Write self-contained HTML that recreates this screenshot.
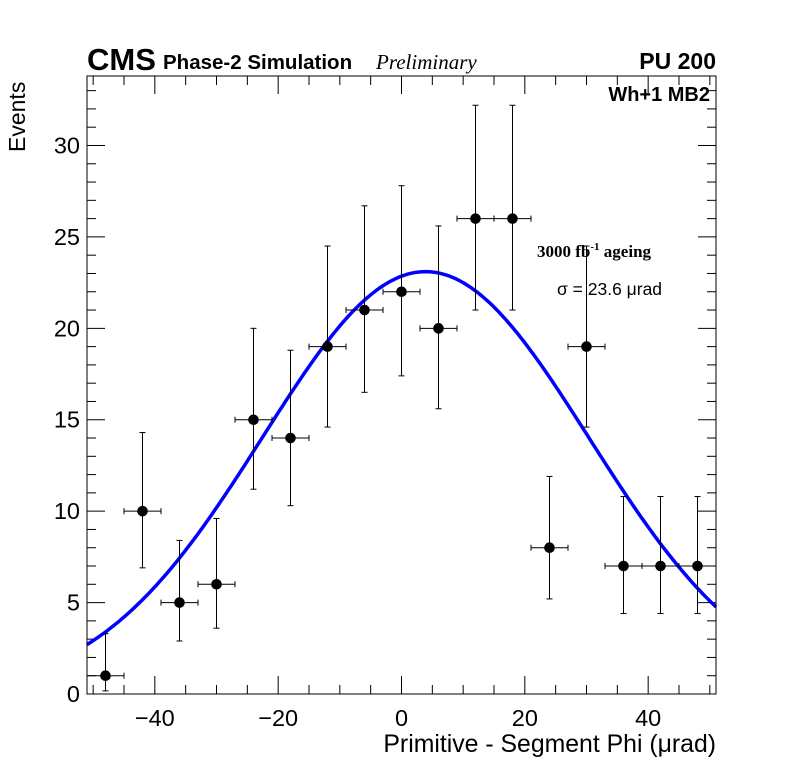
<!DOCTYPE html>
<html><head><meta charset="utf-8"><style>
body{margin:0;background:#fff}
svg text{font-family:"Liberation Sans",sans-serif}
</style></head><body>
<svg id="c" width="796" height="772" xmlns="http://www.w3.org/2000/svg">
<rect width="796" height="772" fill="#fff"/>
<g id="axes"></g>
<g id="curve"></g>
<g id="pts"></g>
<rect x="87" y="76" width="629" height="618" fill="none" stroke="#000" stroke-width="1"/>
<text x="87" y="70" font-size="31" font-weight="bold">CMS</text>
<text x="163" y="69" font-size="20.5" font-weight="bold">Phase-2 Simulation</text>
<text x="376" y="69" font-size="21" font-style="italic" style="font-family:'Liberation Serif',serif">Preliminary</text>
<text x="716" y="69" font-size="23" font-weight="bold" text-anchor="end">PU 200</text>
<text x="710" y="101" font-size="20" font-weight="bold" text-anchor="end">Wh+1 MB2</text>
<text x="537" y="257" font-size="17" font-weight="bold" style="font-family:'Liberation Serif',serif">3000 fb<tspan dy="-7" font-size="11">-1</tspan><tspan dy="7"> ageing</tspan></text>
<text x="557" y="295" font-size="17.5">σ = 23.6 μrad</text>
<text x="716" y="752" font-size="24.8" text-anchor="end">Primitive - Segment Phi (μrad)</text>
<text transform="translate(25,152) rotate(-90)" font-size="23" text-anchor="start">Events</text>
</svg>
<script>
const binCenters=[-48,-42,-36,-30,-24,-18,-12,-6,0,6,12,18,24,30,36,42,48];
const counts=[1,10,5,6,15,14,19,21,22,20,26,26,8,19,7,7,7];
const errUp=[3.3,14.3,8.4,9.6,20,18.8,24.5,26.7,27.8,25.6,32.2,32.2,11.9,24.5,10.8,10.8,10.8];
const errDown=[0.17,6.9,2.9,3.6,11.2,10.3,14.6,16.5,17.4,15.6,21,21,5.2,14.6,4.4,4.4,4.4];
const fitParams=[23.1,3.9,26.5];
const xTicks=[-40,-20,0,20,40];
const yTicks=[0,5,10,15,20,25,30];
const X0=87,X1=716,Y0=694,Y1=76,xmin=-51,xmax=51,ymin=0,ymax=33.8;
const sx=v=>X0+(v-xmin)/(xmax-xmin)*(X1-X0);
const sy=v=>Y0-(v-ymin)/(ymax-ymin)*(Y0-Y1);
const NS="http://www.w3.org/2000/svg";
function mk(p,t,a){const e=document.createElementNS(NS,t);for(const k in a)e.setAttribute(k,a[k]);p.appendChild(e);return e;}
const ax=document.getElementById('axes');
for(let v=-50;v<=50;v+=5){const big=v%20===0;const L=big?18:9;
 const t=mk(ax,'line',{x1:sx(v),x2:sx(v),y1:Y0,y2:Y0-L,stroke:'#000'});
 
 const t2=mk(ax,'line',{x1:sx(v),x2:sx(v),y1:Y1,y2:Y1+L,stroke:'#000'});
 }
for(let v=0;v<=33;v++){const big=v%5===0;const L=big?18:9;
 const t=mk(ax,'line',{x1:X0,x2:X0+L,y1:sy(v),y2:sy(v),stroke:'#000'});
 
 const t2=mk(ax,'line',{x1:X1,x2:X1-L,y1:sy(v),y2:sy(v),stroke:'#000'});
 }
xTicks.forEach(v=>{const t=mk(ax,'text',{x:sx(v),y:726,'font-size':23.5,'text-anchor':'middle'});t.textContent=(v<0?'\u2212'+(-v):v);
 });
yTicks.forEach(v=>{const t=mk(ax,'text',{x:80,y:sy(v)+8,'font-size':23.5,'text-anchor':'end'});t.textContent=v;
 });
let d='';for(let i=0;i<=200;i++){const x=xmin+(xmax-xmin)*i/200;const y=fitParams[0]*Math.exp(-Math.pow(x-fitParams[1],2)/(2*fitParams[2]*fitParams[2]));d+=(i?'L':'M')+sx(x).toFixed(1)+','+sy(y).toFixed(1);}
const cp=mk(document.getElementById('curve'),'path',{d:d,fill:'none',stroke:'#0000ff','stroke-width':3.5});

const pg=document.getElementById('pts');
binCenters.forEach((c,i)=>{const g=mk(pg,'g',{stroke:'#000','stroke-width':1});
 
 const x=sx(c),y=sy(counts[i]),xl=sx(c-3),xr=sx(c+3),yu=sy(errUp[i]),yd=sy(errDown[i]);
 mk(g,'line',{x1:xl,x2:xr,y1:y,y2:y});
 mk(g,'line',{x1:x,x2:x,y1:yu,y2:yd});
 mk(g,'line',{x1:xl,x2:xl,y1:y-3,y2:y+3});mk(g,'line',{x1:xr,x2:xr,y1:y-3,y2:y+3});
 mk(g,'line',{x1:x-3,x2:x+3,y1:yu,y2:yu});mk(g,'line',{x1:x-3,x2:x+3,y1:yd,y2:yd});
 mk(g,'circle',{cx:x,cy:y,r:4.8,fill:'#000'});});
</script>
</body></html>
